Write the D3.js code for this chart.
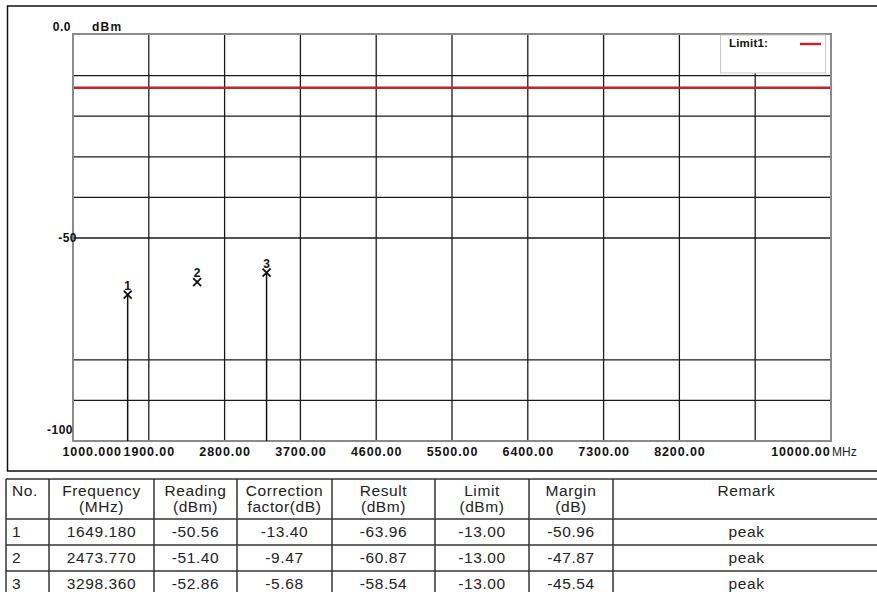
<!DOCTYPE html>
<html>
<head>
<meta charset="utf-8">
<script src="https://cdn.jsdelivr.net/npm/d3@7"></script>
<style>
  html, body { margin: 0; padding: 0; background: #fff; }
  svg { display: block; }
  .ax text { font-family: "Liberation Sans", Arial, sans-serif; font-weight: bold; fill: #111; }
  .tbl text { font-family: "Liberation Sans", Arial, sans-serif; fill: #222; }
</style>
</head>
<body>
<svg id="chart" width="877" height="592"></svg>
<script>
// Marker measurements
const markerNo   = [1, 2, 3];
const frequency  = [1649.180, 2473.770, 3298.360];
const reading    = [-50.56, -51.40, -52.86];
const correction = [-13.40, -9.47, -5.68];
const result     = [-63.96, -60.87, -58.54];
const limit      = [-13.00, -13.00, -13.00];
const margin     = [-50.96, -47.87, -45.54];
const remark     = ["peak", "peak", "peak"];
const stemShown  = [true, false, true];

const limitLevel = -13.0;
const limitName  = "Limit1:";

// Axis ticks
const xTickValues = [1000, 1900, 2800, 3700, 4600, 5500, 6400, 7300, 8200, 9100, 10000];
const xTickLabels = ["1000.000", "1900.00", "2800.00", "3700.00", "4600.00", "5500.00",
                     "6400.00", "7300.00", "8200.00", "", "10000.00"];
const yTickValues = [0, -50, -100];
const yTickLabels = ["0.0", "-50", "-100"];
const yGridValues = [-10, -20, -30, -40, -50, -80, -90];

const headers = [["No."], ["Frequency", "(MHz)"], ["Reading", "(dBm)"], ["Correction", "factor(dB)"],
                 ["Result", "(dBm)"], ["Limit", "(dBm)"], ["Margin", "(dB)"], ["Remark"]];

const svg = d3.select("#chart");

// Plot geometry
const plot = { left: 73, right: 831, top: 34, bottom: 441 };
const x = d3.scaleLinear().domain([1000, 10000]).range([plot.left, plot.right]);
const y = d3.scaleLinear().domain([0, -100]).range([35, plot.bottom]);

// Outer frame around the plot panel
svg.append("rect")
  .attr("x", 7.5).attr("y", 6).attr("width", 900).attr("height", 465)
  .attr("fill", "none").attr("stroke", "#111").attr("stroke-width", 1.5);

// Grid
const grid = svg.append("g");
grid.selectAll("line.v").data(xTickValues.slice(1, -1)).join("line")
  .attr("x1", d => x(d)).attr("x2", d => x(d))
  .attr("y1", plot.top).attr("y2", plot.bottom)
  .attr("stroke", "#1a1a1a").attr("stroke-width", 1.3);
grid.selectAll("line.h").data(yGridValues).join("line")
  .attr("x1", plot.left).attr("x2", plot.right)
  .attr("y1", d => y(d)).attr("y2", d => y(d))
  .attr("stroke", "#1a1a1a").attr("stroke-width", 1.3);

// Limit line
svg.append("line")
  .attr("x1", plot.left).attr("x2", plot.right)
  .attr("y1", y(limitLevel)).attr("y2", y(limitLevel))
  .attr("stroke", "#c62028").attr("stroke-width", 2.6);

// Plot frame
svg.append("rect")
  .attr("x", plot.left).attr("y", plot.top)
  .attr("width", plot.right - plot.left).attr("height", plot.bottom - plot.top)
  .attr("fill", "none").attr("stroke", "#8a8a8a").attr("stroke-width", 2);

// Legend
const leg = svg.append("g");
leg.append("rect").attr("x", 720.5).attr("y", 35).attr("width", 105).attr("height", 38)
  .attr("fill", "#fff").attr("stroke", "#c8c8c8").attr("stroke-width", 1);
leg.append("text").attr("x", 729).attr("y", 47)
  .attr("font-family", "Liberation Sans, Arial, sans-serif").attr("font-weight", "bold")
  .attr("font-size", 11.5).attr("fill", "#111").attr("letter-spacing", 0.2)
  .text(limitName);
leg.append("line").attr("x1", 800).attr("x2", 821).attr("y1", 44).attr("y2", 44)
  .attr("stroke", "#c62028").attr("stroke-width", 2.4);

// X axis labels
const xAxis = d3.axisBottom(x).tickValues(xTickValues)
  .tickFormat((d, i) => xTickLabels[i]).tickSize(0).tickPadding(0);
const gx = svg.append("g").attr("class", "ax").attr("transform", `translate(0,${plot.bottom})`).call(xAxis);
gx.select(".domain").remove();
gx.selectAll("text")
  .attr("font-size", 12.5).attr("letter-spacing", 0.9).attr("dy", 0).attr("y", 15)
  .attr("text-anchor", (d, i) => i === 0 ? "start" : (i === xTickValues.length - 1 ? "end" : "middle"))
  .attr("dx", (d, i) => i === 0 ? -11 : (i === xTickValues.length - 1 ? -1 : 0));
svg.append("text").attr("x", x(10000) + 1).attr("y", plot.bottom + 15)
  .attr("font-family", "Liberation Sans, Arial, sans-serif").attr("font-size", 12)
  .attr("fill", "#222").text("MHz");

// Y axis labels
const yOffsets = [-8, 0, -11];
const yAnchorX = [71, 77, 73];
const gy = svg.append("g").attr("class", "ax");
gy.selectAll("text").data(yTickValues).join("text")
  .attr("x", (d, i) => yAnchorX[i]).attr("y", (d, i) => y(d) + yOffsets[i])
  .attr("dy", "0.35em").attr("text-anchor", "end")
  .attr("font-size", 12).attr("letter-spacing", 0.5)
  .text((d, i) => yTickLabels[i]);
gy.append("text").attr("x", 92).attr("y", y(0) - 8).attr("dy", "0.35em")
  .attr("font-size", 12).attr("letter-spacing", 1.2).text("dBm");

// Markers
const mk = svg.append("g");
const idx = d3.range(markerNo.length);
mk.selectAll("line.stem").data(idx.filter(i => stemShown[i])).join("line")
  .attr("x1", i => x(frequency[i])).attr("x2", i => x(frequency[i]))
  .attr("y1", i => y(result[i])).attr("y2", plot.bottom)
  .attr("stroke", "#111").attr("stroke-width", 1.5);
mk.selectAll("path.x").data(idx).join("path")
  .attr("d", i => {
    const cx = x(frequency[i]), cy = y(result[i]), s = 4;
    return `M${cx - s},${cy - s}L${cx + s},${cy + s}M${cx + s},${cy - s}L${cx - s},${cy + s}`;
  })
  .attr("stroke", "#111").attr("stroke-width", 1.8).attr("fill", "none");
mk.selectAll("text").data(idx).join("text")
  .attr("x", i => x(frequency[i])).attr("y", i => y(result[i]) - 5)
  .attr("text-anchor", "middle")
  .attr("font-family", "Liberation Sans, Arial, sans-serif").attr("font-weight", "bold")
  .attr("font-size", 12).attr("fill", "#111")
  .text(i => markerNo[i]);

// Results table
const cols = [6, 49, 154, 237, 332, 435, 529, 613, 880];
const rowsY = [479, 519, 545, 571, 597];
const tbl = svg.append("g").attr("class", "tbl");
tbl.selectAll("line.r").data(rowsY).join("line")
  .attr("x1", cols[0]).attr("x2", cols[cols.length - 1])
  .attr("y1", d => d).attr("y2", d => d)
  .attr("stroke", "#333").attr("stroke-width", 1.5);
tbl.selectAll("line.c").data(cols.slice(0, -1)).join("line")
  .attr("x1", d => d).attr("x2", d => d)
  .attr("y1", rowsY[0]).attr("y2", rowsY[rowsY.length - 1])
  .attr("stroke", "#333").attr("stroke-width", 1.5);

const fs = 15.5, ls = 0.6;
const colX = i => i === 0 ? cols[0] + 6 : (cols[i] + cols[i + 1]) / 2;
const colAnchor = i => i === 0 ? "start" : "middle";
headers.forEach((lines, c) => {
  lines.forEach((t, k) => {
    tbl.append("text").attr("x", colX(c)).attr("y", rowsY[0] + 17 + k * 16)
      .attr("text-anchor", colAnchor(c)).attr("font-size", fs).attr("letter-spacing", ls)
      .text(t);
  });
});
const rowCells = idx.map(i => [
  String(markerNo[i]), frequency[i].toFixed(3), reading[i].toFixed(2), correction[i].toFixed(2),
  result[i].toFixed(2), limit[i].toFixed(2), margin[i].toFixed(2), remark[i]
]);
rowCells.forEach((cells, r) => {
  cells.forEach((t, c) => {
    tbl.append("text").attr("x", colX(c)).attr("y", rowsY[r + 1] + 18)
      .attr("text-anchor", colAnchor(c)).attr("font-size", fs).attr("letter-spacing", ls)
      .text(t);
  });
});
</script>
</body>
</html>
